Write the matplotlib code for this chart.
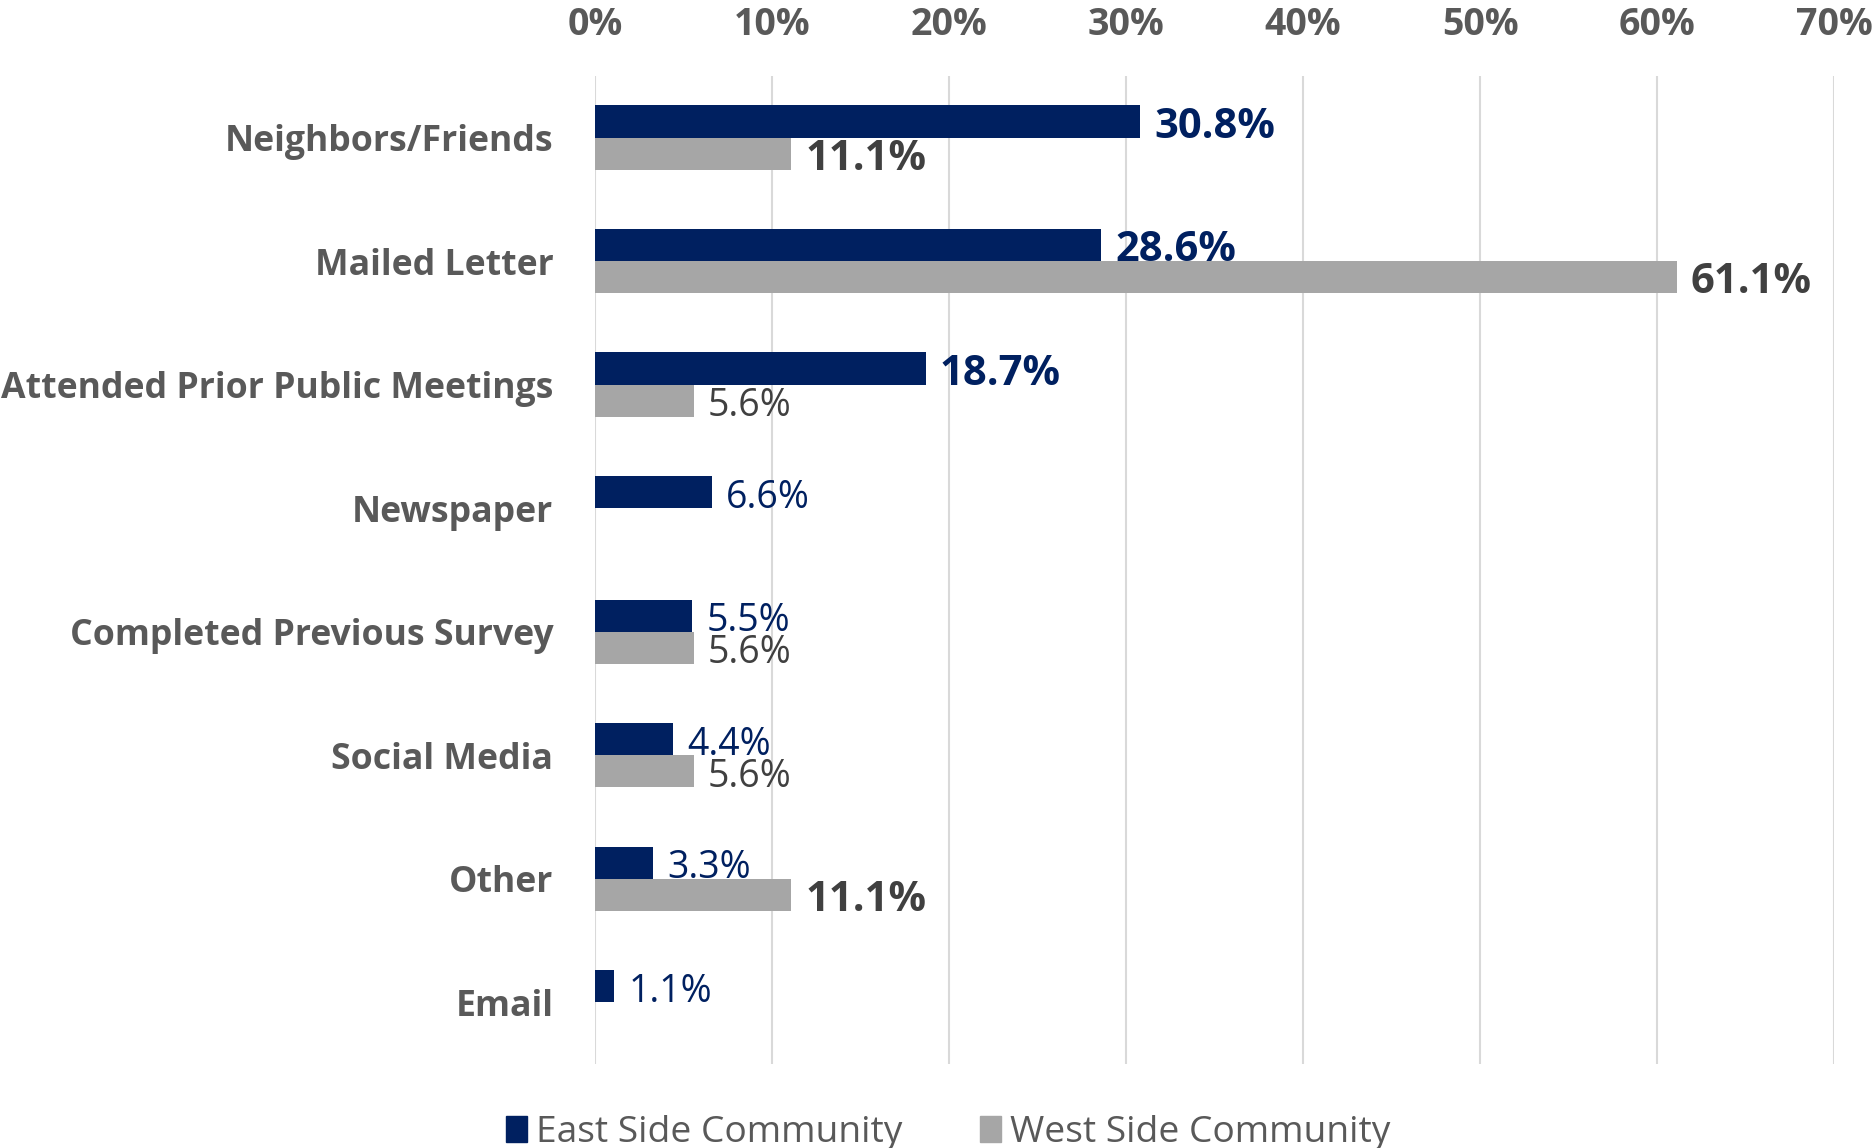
import numpy as np
import matplotlib.pyplot as plt
from matplotlib.patches import Patch

plt.rcParams['font.family'] = ['Open Sans', 'DejaVu Sans']

categories = ["Neighbors/Friends", "Mailed Letter", "Attended Prior Public Meetings",
              "Newspaper", "Completed Previous Survey", "Social Media", "Other", "Email"]
east = [30.8, 28.6, 18.7, 6.6, 5.5, 4.4, 3.3, 1.1]
west = [11.1, 61.1, 5.6, None, 5.6, 5.6, 11.1, None]
series_names = ["East Side Community", "West Side Community"]
xticks = [0, 10, 20, 30, 40, 50, 60, 70]

navy = "#002060"
grey = "#A6A6A6"
text_grey = "#595959"
label_grey = "#404040"

fig = plt.figure(figsize=(18.74, 11.48), dpi=100)
ax = fig.add_axes([0.3175, 0.0732, 0.6612, 0.8608])

y = np.arange(len(categories))
h = 0.26
west_vals = [v if v is not None else 0 for v in west]
ax.barh(y - h / 2, east, height=h, color=navy, zorder=3)
ax.barh(y + h / 2, west_vals, height=h, color=grey, zorder=3)

# data labels: values of 10% and up are bold and larger
for i in range(len(categories)):
    v = east[i]
    bold = v >= 10
    ax.annotate(f"{v:.1f}%", (v, y[i] - h / 2), xytext=(10, -4), textcoords="offset points",
                va="center", ha="left", color=navy,
                fontsize=30 if bold else 27, fontweight="bold" if bold else "normal")
    w = west[i]
    if w is None:
        continue
    bold = w >= 10
    ax.annotate(f"{w:.1f}%", (w, y[i] + h / 2), xytext=(10, -4), textcoords="offset points",
                va="center", ha="left", color=label_grey,
                fontsize=30 if bold else 27, fontweight="bold" if bold else "normal")

ax.set_ylim(len(categories) - 0.5, -0.5)
ax.set_xlim(0, 70)
ax.set_yticks(y)
ax.set_yticklabels(categories, fontsize=25.7, fontweight="bold", color=text_grey)
ax.set_xticks(xticks)
ax.set_xticklabels([f"{t}%" for t in xticks], fontsize=27, fontweight="bold", color=text_grey)
ax.xaxis.tick_top()
ax.tick_params(axis="both", length=0)
ax.tick_params(axis="x", pad=23)
ax.tick_params(axis="y", pad=30)
ax.grid(axis="x", color="#D9D9D9", linewidth=1.5, zorder=0)
for s in ax.spines.values():
    s.set_visible(False)

handles = [Patch(color=navy), Patch(color=grey)]
fig.legend(handles, series_names, loc="center", bbox_to_anchor=(0.506, 0.0135), ncol=2,
           frameon=False, fontsize=26.7, labelcolor=text_grey, handlelength=0.55, handleheight=0.7,
           handletextpad=0.25, columnspacing=2.1)

fig.savefig("out.png", dpi=100)
